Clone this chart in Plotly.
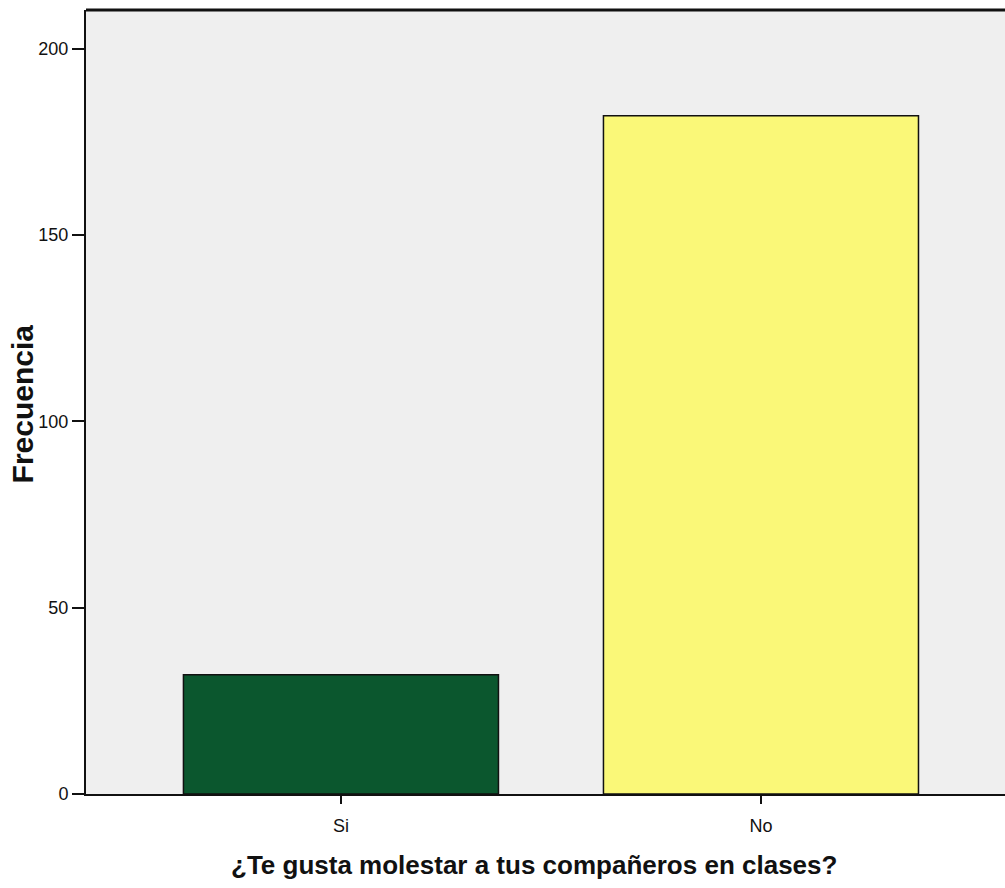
import plotly.graph_objects as go

categories = ["Si", "No"]
counts = [32, 182]
bar_colors = ["#0b572e", "#faf878"]
y_ticks = [0, 50, 100, 150, 200]

narrow = "Liberation Sans Narrow, Arial Narrow, Liberation Sans, Arial, sans-serif"
bold = "Liberation Sans, Arial, sans-serif"

fig = go.Figure()
fig.add_trace(go.Bar(
    x=categories,
    y=counts,
    width=0.75,
    marker=dict(color=bar_colors, line=dict(color="#111111", width=1.5)),
    showlegend=False,
    hoverinfo="x+y",
))

fig.update_layout(
    width=1005,
    height=888,
    margin=dict(l=86, r=0, t=10, b=94),
    paper_bgcolor="white",
    plot_bgcolor="#efefef",
    font=dict(family=narrow, size=16, color="#111111"),
    xaxis=dict(
        range=[-0.607, 1.581],
        showgrid=False,
        zeroline=False,
        showline=True,
        linecolor="#111111",
        linewidth=2,
        ticks="outside",
        ticklen=8,
        tickwidth=2,
        tickcolor="#111111",
        ticklabelstandoff=6,
        tickfont=dict(family=narrow, size=18),
    ),
    yaxis=dict(
        range=[0, 210.4],
        tickvals=y_ticks,
        showgrid=False,
        zeroline=False,
        showline=True,
        linecolor="#111111",
        linewidth=2,
        ticks="outside",
        ticklen=12,
        tickwidth=2,
        tickcolor="#111111",
        tickfont=dict(family=narrow, size=18),
    ),
)

# axis titles placed as annotations to match the original position
fig.add_annotation(
    text="<b>¿Te gusta molestar a tus compañeros en clases?</b>",
    xref="paper", yref="paper", x=0.4875, y=-0.091,
    xanchor="center", yanchor="middle", showarrow=False,
    font=dict(family=bold, size=26, color="#111111"),
)
fig.add_annotation(
    text="<b>Frecuencia</b>",
    xref="paper", yref="paper", x=-0.0696, y=0.497,
    xanchor="center", yanchor="middle", showarrow=False, textangle=-90,
    font=dict(family=bold, size=30, color="#111111"),
)

# top frame line
fig.add_shape(type="line", xref="paper", yref="paper", x0=0, x1=1, y0=1, y1=1,
              line=dict(color="#111111", width=3))

fig.write_html("out.html", config={"displayModeBar": False},
               post_script="document.body.style.margin='0';")
